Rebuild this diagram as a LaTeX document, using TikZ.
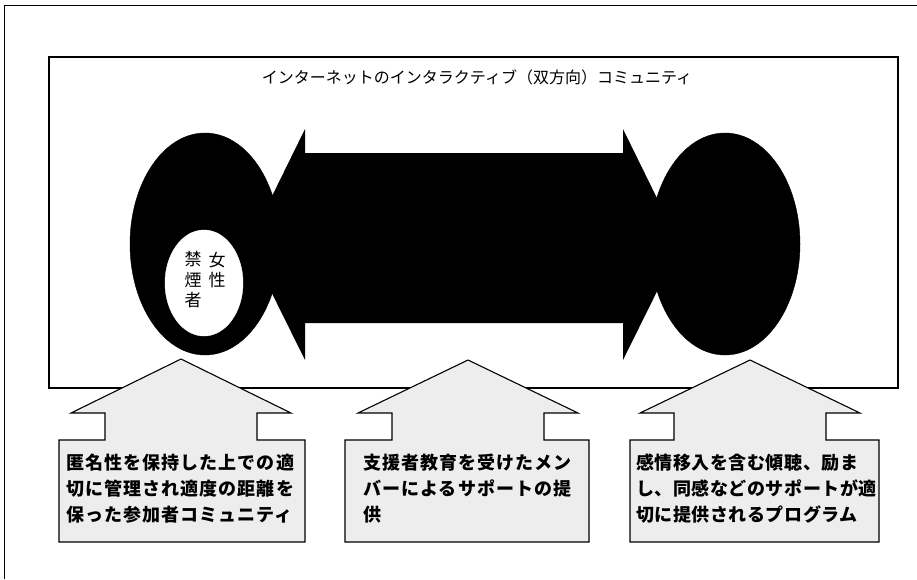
\documentclass[tikz,border=0pt]{standalone}
\usepackage{fontspec}
\newfontfamily\cjk{Noto Sans CJK JP}
\newfontfamily\cjkwide[LetterSpace=6]{Noto Sans CJK JP}
\newfontfamily\cjkmid[LetterSpace=3]{Noto Sans CJK JP}
\usetikzlibrary{shapes.geometric}
\tikzset{
  frameline/.style={draw=black, line width=0.9pt},
  blackell/.style={ellipse, fill=black, draw=black, inner sep=0pt, minimum width=150pt, minimum height=222pt},
  whiteell/.style={ellipse, fill=white, draw=white, inner sep=0pt, minimum width=78pt, minimum height=106pt},
  uparrowshape/.style={draw=black, line width=1.1pt, fill=black!7, line join=miter},
  boxtext/.style={align=left, anchor=north west, inner sep=0pt},
  titletext/.style={font=\cjk\fontsize{16}{18}\selectfont, inner sep=0pt},
  verttext/.style={font=\cjk\fontsize{17}{20.5}\selectfont, align=center, inner sep=0pt}
}
\begin{document}
\begin{tikzpicture}[x=1pt,y=-1pt]
\useasboundingbox (0,0) rectangle (917,579);
% outer frame (top and left edges)
\draw[frameline] (4,579) -- (4,5) -- (917,5);
% inner rectangle
\draw[frameline, line width=1.1pt] (49,57) rectangle (898,388);
\node[titletext] (title) at (477,77) {インターネットのインタラクティブ（双方向）コミュニティ};
% double arrow
\fill[black] (248,245) -- (305,129) -- (305,153) -- (623,153) -- (623,129)
  -- (680,245) -- (623,360) -- (623,323) -- (305,323) -- (305,360) -- cycle;
% ellipses
\node[blackell] (lell) at (205,244) {};
\node[blackell] (rell) at (725,244) {};
\node[whiteell] (wel) at (204,283) {};
\node[verttext] (vA) at (217,270) {女\\性};
\node[verttext] (vB) at (193,280) {禁\\煙\\者};
% up arrows with boxes
\draw[uparrowshape] (59,542) -- (59,440) -- (105,440) -- (105,413) -- (71,413) -- (181,359)
  -- (291,413) -- (257,413) -- (257,440) -- (305,440) -- (305,542) -- cycle;
\draw[uparrowshape] (345,542) -- (345,440) -- (392,440) -- (392,413) -- (358,413) -- (468,360)
  -- (578,413) -- (544,413) -- (544,440) -- (589,440) -- (589,542) -- cycle;
\draw[uparrowshape] (630,542) -- (630,440) -- (674,440) -- (674,413) -- (640,413) -- (750,360)
  -- (860,413) -- (826,413) -- (826,440) -- (879,440) -- (879,542) -- cycle;
\node[boxtext, font=\cjkwide\bfseries\fontsize{18}{26}\selectfont] (t1) at (66,454)
  {匿名性を保持した上での適\\切に管理され適度の距離を\\保った参加者コミュニティ};
\node[boxtext, font=\cjkwide\bfseries\fontsize{18}{26}\selectfont] (t2) at (363,454)
  {支援者教育を受けたメン\\バーによるサポートの提\\供};
\node[boxtext, font=\cjkmid\bfseries\fontsize{18}{26}\selectfont] (t3) at (636,454)
  {感情移入を含む傾聴、励ま\\し、同感などのサポートが適\\切に提供されるプログラム};
\end{tikzpicture}
\end{document}
